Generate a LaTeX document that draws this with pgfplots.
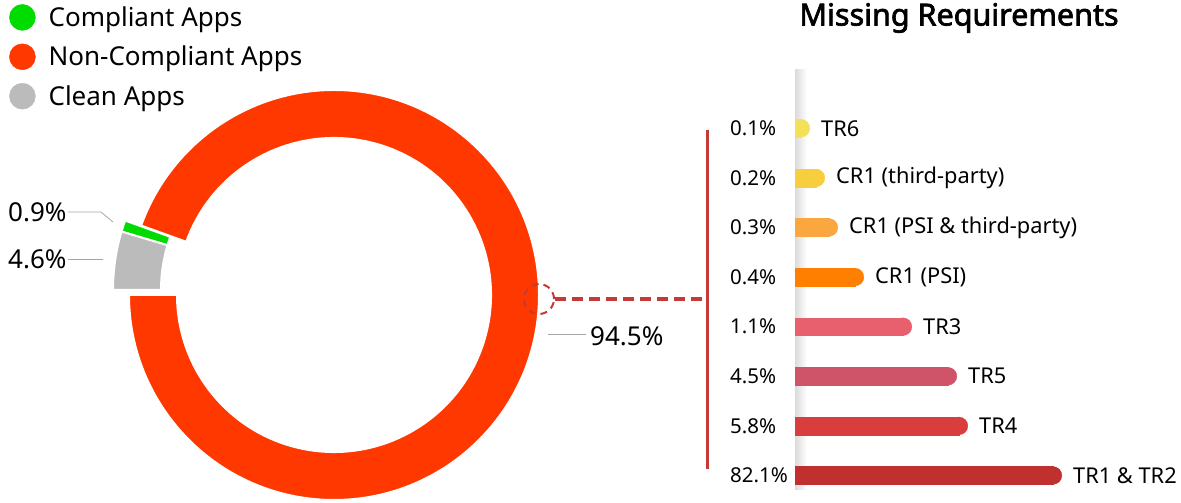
\documentclass[border=0pt]{standalone}
\usepackage{fontspec}
\setmainfont{Noto Sans}
\newfontfamily\titlefont{Noto Sans}[FakeBold=2.2]
\usepackage{pgfplots}
\pgfplotsset{compat=1.18}
\usepackage{pgfplotstable}
\definecolor{cGreen}{HTML}{00DC00}
\definecolor{cOrange}{HTML}{FF3800}
\definecolor{cGray}{HTML}{BBBBBB}
\definecolor{cRed}{HTML}{C33A36}
\definecolor{cTRsix}{HTML}{F3E15A}
\definecolor{cCRtp}{HTML}{F7CE3E}
\definecolor{cCRboth}{HTML}{FBA73F}
\definecolor{cCRpsi}{HTML}{FF8000}
\definecolor{cTRthree}{HTML}{E85F6E}
\definecolor{cTRfive}{HTML}{D05469}
\definecolor{cTRfour}{HTML}{D93D3D}
\definecolor{cTRone}{HTML}{BF302E}
\pgfplotsset{roundbar/.style={color=#1, fill=#1, line width=0.3bp, mark=*, mark size=8.85bp, mark options={color=#1, fill=#1, line width=0.3bp}}}
\begin{document}
\begin{tikzpicture}[x=1bp,y=1bp]
\pgfplotstableread{
label value
Compliant 0.9
NonCompliant 94.5
Clean 4.6
}\donut
\pgfplotstablegetelem{0}{value}\of\donut \let\vComp\pgfplotsretval
\pgfplotstablegetelem{1}{value}\of\donut \let\vNon\pgfplotsretval
\pgfplotstablegetelem{2}{value}\of\donut \let\vClean\pgfplotsretval
\pgfmathsetmacro\aA{180+3.6*\vNon}
\pgfmathsetmacro\aB{\aA+3.6*\vComp}
\pgfmathsetmacro\aC{\aB+3.6*\vClean}
% ---------------- donut + legend ----------------
\begin{axis}[at={(0bp,0bp)}, anchor=south west, x=1bp, y=1bp,
  xmin=0, xmax=700, ymin=0, ymax=503,
  axis line style={draw=none}, ticks=none, clip=false,
  legend image code/.code={\fill[#1] (0bp,0bp) circle[radius=13bp];},
  legend style={at={(axis cs:9,499)}, anchor=north west, draw=none, fill=none,
    inner sep=0pt, row sep=13bp, column sep=13bp,
    font=\fontsize{26bp}{30bp}\selectfont, nodes={inner sep=0pt}},
  legend cell align=left]
\addlegendimage{cGreen}\addlegendentry{Compliant Apps}
\addlegendimage{cOrange}\addlegendentry{Non-Compliant Apps}
\addlegendimage{cGray}\addlegendentry{Clean Apps}
% full picture extent
\path (axis cs:0,0) (axis cs:1181,503);
% non-compliant
\fill[cOrange, draw=white, line width=2bp] (axis cs:334,208) ++(180:205bp)
  arc[start angle=180, end angle=\aA, radius=205bp] -- ++(\aA+180:48bp)
  arc[start angle=\aA, end angle=180, radius=157bp] -- cycle;
% compliant (exploded)
\fill[cGreen, draw=white, line width=2bp, shift={(-16bp,5bp)}] (axis cs:334,208) ++(\aA:205bp)
  arc[start angle=\aA, end angle=\aB, radius=205bp] -- ++(\aB+180:48bp)
  arc[start angle=\aB, end angle=\aA, radius=157bp] -- cycle;
% clean (exploded)
\fill[cGray, draw=white, line width=2bp, shift={(-16bp,5bp)}] (axis cs:334,208) ++(\aB:205bp)
  arc[start angle=\aB, end angle=\aC, radius=205bp] -- ++(\aC+180:48bp)
  arc[start angle=\aC, end angle=\aB, radius=157bp] -- cycle;
% labels
\draw[gray!70, line width=0.8bp] (axis cs:68,291) -- (axis cs:101,291) -- (axis cs:113,281);
\draw[gray!70, line width=0.8bp] (axis cs:68,244) -- (axis cs:103,244);
\draw[gray!70, line width=0.8bp] (axis cs:548,169) -- (axis cs:586,169);
\node[anchor=west, inner sep=0pt, font=\fontsize{26bp}{30bp}\selectfont] at (axis cs:8,291) {0.9\%};
\node[anchor=west, inner sep=0pt, font=\fontsize{26bp}{30bp}\selectfont] at (axis cs:8,244) {4.6\%};
\node[anchor=west, inner sep=0pt, font=\fontsize{26bp}{30bp}\selectfont] at (axis cs:590,167) {94.5\%};
% connector
\draw[cRed, line width=2bp, dash pattern=on 7bp off 5bp] (axis cs:539,204) circle[radius=15bp];
\draw[cRed, line width=3.5bp, dash pattern=on 11bp off 6bp] (axis cs:555,204) -- (axis cs:707,204);
\draw[cRed, line width=3bp] (axis cs:707,373) -- (axis cs:707,34);
% title
\node[font=\titlefont\fontsize{30.5bp}{35bp}\selectfont, inner sep=0pt] at (axis cs:959,485) {Missing Requirements};
\end{axis}
% ---------------- bars ----------------
\begin{axis}[at={(795bp,13bp)}, anchor=south west, x=1bp, y=1bp,
  xmin=0, xmax=386, ymin=13, ymax=433,
  axis x line=none, axis y line*=left, y axis line style={draw=none},
  ytick={374.7,325.1,275.5,225.9,176.3,126.7,77.1,27.5},
  yticklabels={0.1\%,0.2\%,0.3\%,0.4\%,1.1\%,4.5\%,5.8\%,82.1\%},
  major tick length=0pt,
  yticklabel style={anchor=west, xshift=-65bp, inner sep=0pt, font=\fontsize{20.5bp}{24bp}\selectfont},
  xbar, bar width=17.7bp, bar shift=0pt, clip marker paths=true,
  point meta=explicit symbolic, nodes near coords, nodes near coords align={horizontal},
  every node near coord/.append style={font=\fontsize{21.8bp}{25bp}\selectfont, inner sep=0pt, text=black, xshift=20bp, anchor=west}]
\fill[left color=black!14, right color=white] (axis cs:0,13) rectangle (axis cs:12,433);
\addplot[roundbar=cTRsix] coordinates {(6,374.7) [TR6]};
\addplot[roundbar=cCRtp] coordinates {(21,325.1) [CR1 (third-party)]};
\addplot[roundbar=cCRboth] coordinates {(34,275.5) [CR1 (PSI \& third-party)]};
\addplot[roundbar=cCRpsi] coordinates {(60,225.9) [CR1 (PSI)]};
\addplot[roundbar=cTRthree] coordinates {(108,176.3) [TR3]};
\addplot[roundbar=cTRfive] coordinates {(153,126.7) [TR5]};
\addplot[roundbar=cTRfour] coordinates {(164,77.1) [TR4]};
\addplot[roundbar=cTRone] coordinates {(258,27.5) [TR1 \& TR2]};
\end{axis}
\end{tikzpicture}
\end{document}
